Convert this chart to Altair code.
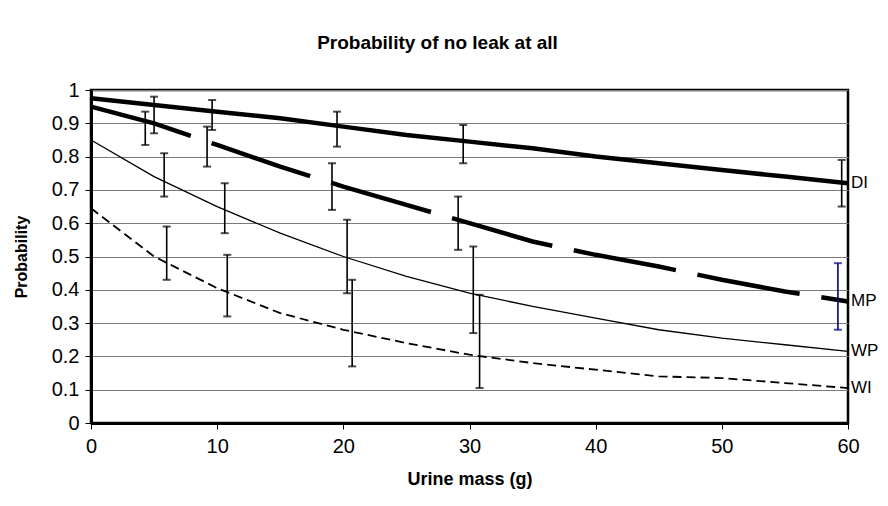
import altair as alt
import pandas as pd

# ---- data ----
mass = [0, 5, 10, 15, 20, 25, 30, 35, 40, 45, 50, 55, 60]
di = [0.975, 0.955, 0.935, 0.915, 0.89, 0.865, 0.845, 0.825, 0.80, 0.78, 0.76, 0.74, 0.72]
mp = [0.95, 0.90, 0.835, 0.77, 0.71, 0.655, 0.60, 0.545, 0.505, 0.47, 0.43, 0.395, 0.365]
wp = [0.85, 0.74, 0.65, 0.57, 0.50, 0.44, 0.39, 0.35, 0.315, 0.28, 0.255, 0.235, 0.215]
wi = [0.645, 0.50, 0.405, 0.33, 0.28, 0.24, 0.205, 0.18, 0.16, 0.14, 0.135, 0.12, 0.105]
series_names = ["DI", "MP", "WP", "WI"]

err_x = [4.3, 5.0, 5.8, 6.0, 9.2, 9.6, 10.6, 10.8, 19.1, 19.5, 20.3, 20.7,
         29.1, 29.5, 30.3, 30.8, 59.5, 59.2]
err_lo = [0.835, 0.87, 0.68, 0.43, 0.77, 0.88, 0.57, 0.32, 0.64, 0.83, 0.39, 0.17,
          0.52, 0.78, 0.27, 0.105, 0.65, 0.28]
err_hi = [0.935, 0.98, 0.81, 0.59, 0.89, 0.97, 0.72, 0.505, 0.78, 0.935, 0.61, 0.43,
          0.68, 0.895, 0.53, 0.385, 0.79, 0.48]
err_col = ["black"] * 17 + ["#000080"]

x_ticks = [0, 10, 20, 30, 40, 50, 60]
y_ticks = [0, 0.1, 0.2, 0.3, 0.4, 0.5, 0.6, 0.7, 0.8, 0.9, 1.0]

FONT = "Liberation Sans"

values = {"DI": di, "MP": mp, "WP": wp, "WI": wi}
rows = []
for s in series_names:
    for m, v in zip(mass, values[s]):
        rows.append({"series": s, "mass": m, "p": v})
df = pd.DataFrame(rows)

err_df = pd.DataFrame({"mass": err_x, "p": err_lo, "hi": err_hi, "col": err_col})
lab_df = pd.DataFrame({"series": series_names, "mass": [60] * 4,
                       "p": [values[s][-1] for s in series_names]})

xs = alt.Scale(domain=[0, 60], nice=False, zero=False)
ys = alt.Scale(domain=[0, 1], nice=False)

xaxis = alt.Axis(values=x_ticks, title="Urine mass (g)", grid=False,
                 domainColor="black", domainWidth=3, tickColor="black", tickSize=6,
                 labelFontSize=20, labelColor="black", labelFont=FONT, labelPadding=7,
                 titleFont=FONT, titleFontSize=18, titleFontWeight="bold",
                 titleColor="black", titlePadding=14, labelFlush=False)
yaxis = alt.Axis(values=y_ticks, format="~g", title="Probability", grid=True,
                 gridColor="#7a7a7a", gridWidth=1,
                 domainColor="black", domainWidth=3, tickColor="black", tickSize=6,
                 labelFontSize=20, labelColor="black", labelFont=FONT, labelPadding=6,
                 titleFont=FONT, titleFontSize=16, titleFontWeight="bold",
                 titleColor="black", titlePadding=22, labelFlush=False)

X = alt.X("mass:Q", scale=xs, axis=xaxis)
Y = alt.Y("p:Q", scale=ys, axis=yaxis)

base = alt.Chart(df)

styles = {
    "DI": dict(strokeWidth=4.5),
    "MP": dict(strokeWidth=4.5, strokeDash=[104, 22]),
    "WP": dict(strokeWidth=1.3),
    "WI": dict(strokeWidth=1.8, strokeDash=[9, 5]),
}

layers = []
for s in series_names:
    layers.append(
        base.transform_filter(alt.datum.series == s)
        .mark_line(color="black", clip=False, **styles[s])
        .encode(x=X, y=Y)
    )

err_rules = alt.Chart(err_df).mark_rule(strokeWidth=1.6).encode(
    x=X, y=Y, y2="hi:Q",
    color=alt.Color("col:N", scale=None),
)
caps_lo = alt.Chart(err_df).mark_tick(orient="horizontal", size=8, thickness=2).encode(
    x=X, y=Y, color=alt.Color("col:N", scale=None),
)
caps_hi = alt.Chart(err_df).mark_tick(orient="horizontal", size=8, thickness=2).encode(
    x=X, y=alt.Y("hi:Q", scale=ys, axis=yaxis), color=alt.Color("col:N", scale=None),
)

labels = alt.Chart(lab_df).mark_text(
    align="left", baseline="middle", dx=3, fontSize=17, font=FONT, color="black"
).encode(x=X, y=Y, text="series:N")

chart = alt.layer(*layers, err_rules, caps_lo, caps_hi, labels).properties(
    width=757,
    height=333,
    autosize=alt.AutoSizeParams(type="none"),
    padding={"left": 83, "top": 82, "right": 32, "bottom": 68},
    title=alt.TitleParams(
        "Probability of no leak at all", font=FONT, fontSize=19, fontWeight="bold",
        color="black", anchor="middle", dx=-32, offset=27,
    ),
).configure(
    background="white",
    view=alt.ViewConfig(stroke="black", strokeWidth=2.5),
)

chart.save("out.html", embed_options={"renderer": "svg", "actions": False})
